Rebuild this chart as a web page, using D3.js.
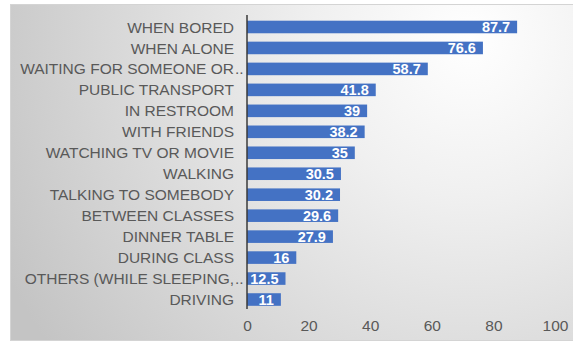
<!DOCTYPE html>
<html>
<head>
<meta charset="utf-8">
<script src="https://cdn.jsdelivr.net/npm/d3@7"></script>
<style>
  html, body { margin: 0; padding: 0; background: #ffffff; }
  svg { display: block; }
</style>
</head>
<body>
<svg id="chart" width="573" height="343"></svg>
<script>
const categories = [
  "WHEN BORED",
  "WHEN ALONE",
  "WAITING FOR SOMEONE OR..",
  "PUBLIC TRANSPORT",
  "IN RESTROOM",
  "WITH FRIENDS",
  "WATCHING TV OR MOVIE",
  "WALKING",
  "TALKING TO SOMEBODY",
  "BETWEEN CLASSES",
  "DINNER TABLE",
  "DURING CLASS",
  "OTHERS (WHILE SLEEPING,..",
  "DRIVING"
];
const values = [87.7, 76.6, 58.7, 41.8, 39, 38.2, 35, 30.5, 30.2, 29.6, 27.9, 16, 12.5, 11];
const valueLabels = ["87.7", "76.6", "58.7", "41.8", "39", "38.2", "35", "30.5", "30.2", "29.6", "27.9", "16", "12.5", "11"];
const xTicks = [0, 20, 40, 60, 80, 100];

const svg = d3.select("#chart");
const W = 573, H = 343;

// background panel with radial gradient
const defs = svg.append("defs");
const grad = defs.append("radialGradient")
  .attr("id", "bg")
  .attr("gradientUnits", "userSpaceOnUse")
  .attr("cx", 470).attr("cy", 40).attr("r", 520);
grad.append("stop").attr("offset", "0%").attr("stop-color", "#ffffff");
grad.append("stop").attr("offset", "30%").attr("stop-color", "#f0f0f0");
grad.append("stop").attr("offset", "100%").attr("stop-color", "#c4c4c4");

svg.append("rect")
  .attr("x", 10.5).attr("y", 4.5)
  .attr("width", W - 10).attr("height", 336)
  .attr("fill", "url(#bg)")
  .attr("stroke", "#d4d4d4")
  .attr("stroke-width", 1);

const x = d3.scaleLinear().domain([0, 100]).range([247, 555]);
const y = d3.scaleBand().domain(categories).range([16.5, 310])
  .paddingInner(0.4).paddingOuter(0.2);

// bars
svg.append("g").selectAll("rect")
  .data(values)
  .join("rect")
  .attr("x", x(0))
  .attr("y", (d, i) => y(categories[i]))
  .attr("width", d => x(d) - x(0))
  .attr("height", y.bandwidth())
  .attr("fill", "#4472c4");

// value labels
svg.append("g").selectAll("text")
  .data(values)
  .join("text")
  .attr("x", d => x(d) - 7)
  .attr("y", (d, i) => y(categories[i]) + y.bandwidth() / 2)
  .attr("dy", "0.36em")
  .attr("text-anchor", "end")
  .attr("font-family", "Liberation Sans, Arial, sans-serif")
  .attr("font-size", 14.5)
  .attr("font-weight", "bold")
  .attr("fill", "#ffffff")
  .text((d, i) => valueLabels[i]);

// category axis line
svg.append("line")
  .attr("x1", x(0)).attr("x2", x(0))
  .attr("y1", 15).attr("y2", 309)
  .attr("stroke", "#3a3a3a")
  .attr("stroke-width", 1.5);

// category labels
const labG = svg.append("g")
  .attr("font-family", "Liberation Sans, Arial, sans-serif")
  .attr("font-size", 15.5)
  .attr("fill", "#595959");
categories.forEach(c => {
  const cy = y(c) + y.bandwidth() / 2;
  const trunc = c.endsWith("..");
  const base = trunc ? c.slice(0, -2) : c;
  labG.append("text")
    .attr("x", 234).attr("y", cy).attr("dy", "0.36em")
    .attr("text-anchor", "end")
    .text(base);
  if (trunc) {
    labG.append("text")
      .attr("x", 235).attr("y", cy).attr("dy", "0.36em")
      .attr("text-anchor", "start")
      .text("..");
  }
});

// x axis tick labels
const xAxis = d3.axisBottom(x).tickValues(xTicks).tickSize(0).tickPadding(0);
const gx = svg.append("g").attr("transform", "translate(0,320)").call(xAxis);
gx.select(".domain").remove();
gx.selectAll("text")
  .attr("font-family", "Liberation Sans, Arial, sans-serif")
  .attr("font-size", 15.5)
  .attr("fill", "#595959")
  .attr("dy", "0.71em");
</script>
</body>
</html>
